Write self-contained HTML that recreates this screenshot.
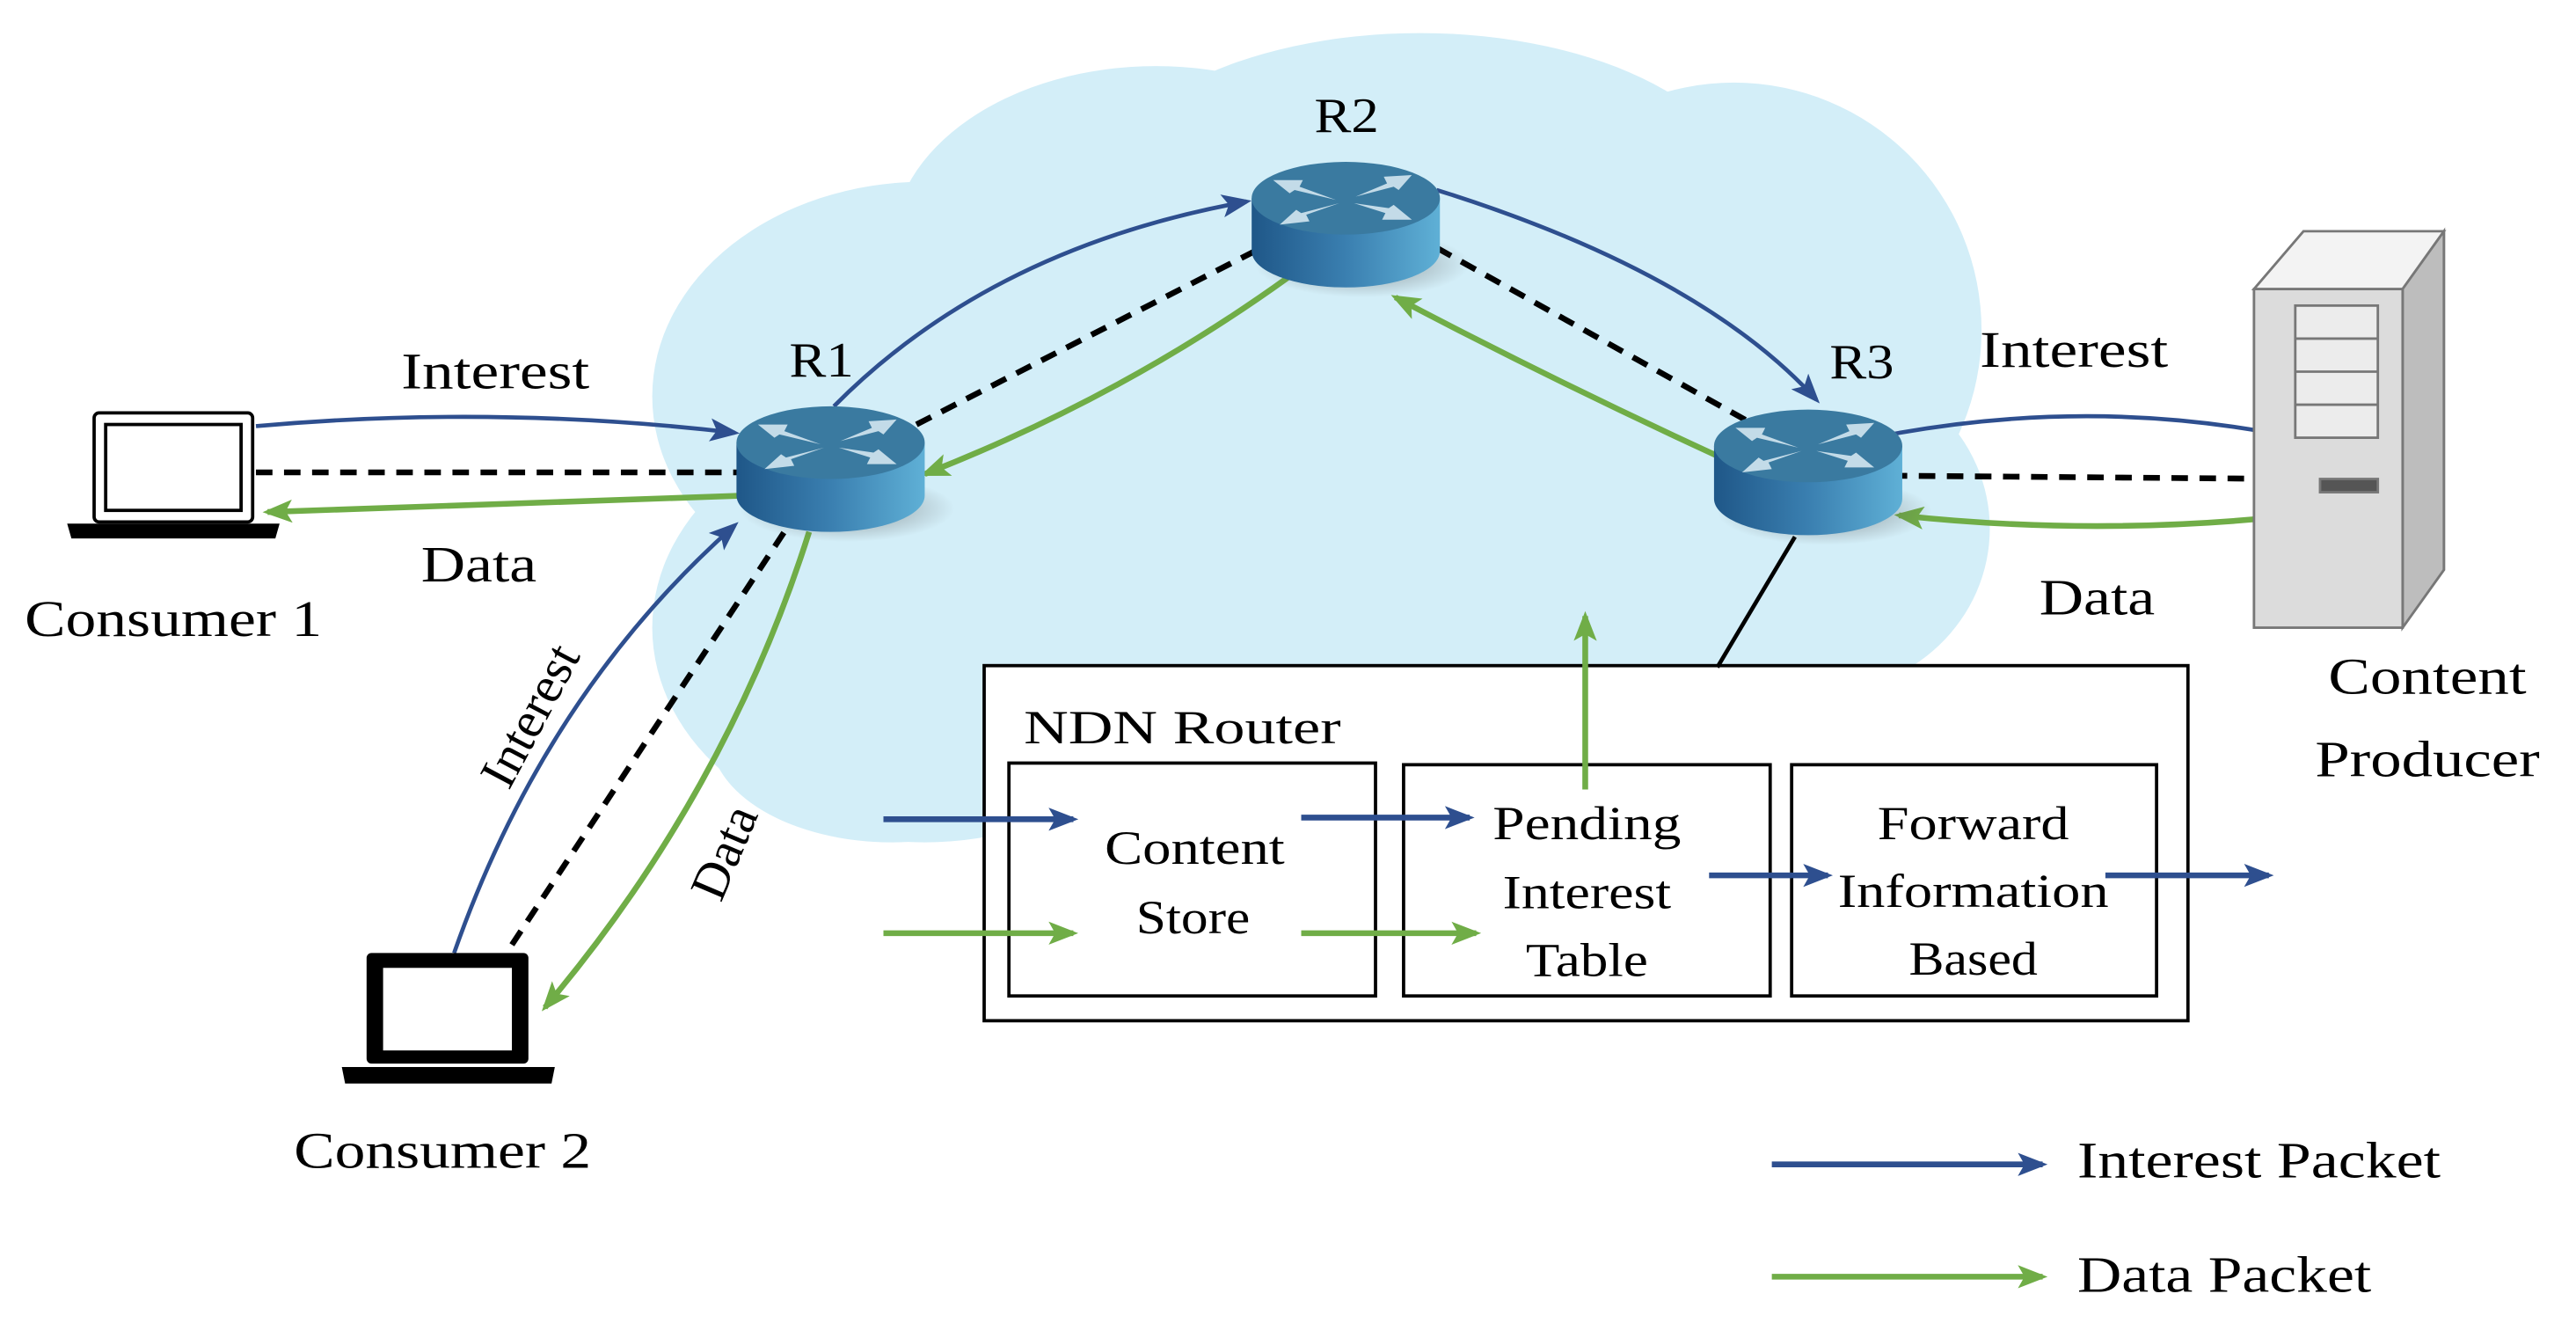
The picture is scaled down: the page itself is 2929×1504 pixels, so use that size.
<!DOCTYPE html>
<html><head><meta charset="utf-8"><style>
html,body{margin:0;padding:0;background:#fff;}
svg{display:block;}
text{font-family:"Liberation Serif",serif;fill:#000;}
</style></head><body>
<svg width="2929" height="1504" viewBox="0 0 1560 801" xmlns="http://www.w3.org/2000/svg">
<defs>
<linearGradient id="body" x1="0" x2="1" y1="0" y2="0"><stop offset="0" stop-color="#1f5788"/><stop offset="0.5" stop-color="#3a7fb0"/><stop offset="1" stop-color="#5fb0d6"/></linearGradient>
<radialGradient id="sh" cx="0.5" cy="0.5" r="0.5"><stop offset="0" stop-color="#555" stop-opacity="0.6"/><stop offset="1" stop-color="#555" stop-opacity="0"/></radialGradient>
<marker id="ab" viewBox="0 0 18 14" refX="15" refY="7" markerWidth="18" markerHeight="14" orient="auto" markerUnits="userSpaceOnUse"><path d="M0,0 L18,7 L0,14 L4,7 Z" fill="#2e4f8f"/></marker>
<marker id="ag" viewBox="0 0 18 14" refX="15" refY="7" markerWidth="18" markerHeight="14" orient="auto" markerUnits="userSpaceOnUse"><path d="M0,0 L18,7 L0,14 L4,7 Z" fill="#70ad47"/></marker>
<g id="router">
<ellipse cx="10" cy="40" rx="65" ry="20" fill="url(#sh)"/>
<path d="M-57,0 L-57,32 A57,22 0 0 0 57,32 L57,0 Z" fill="url(#body)"/>
<ellipse cx="0" cy="0" rx="57" ry="22" fill="#3a7aa0"/>
<g fill="#c3dbe8">
<path d="M-6,1 L-28,-7 L-26,-11 L-44,-11 L-34,-3 L-31,-5 Z"/>
<path d="M6,-1 L25,-9 L23,-13 L40,-14 L32,-5 L29,-7 Z"/>
<path d="M-4,3 L-24,10 L-22,14 L-40,16 L-30,7 L-27,9 Z"/>
<path d="M5,3 L24,9 L22,13 L40,13 L29,4 L26,6 Z"/>
</g>
</g>
</defs>
<!-- cloud -->
<g fill="#d3eef8">
<ellipse cx="560" cy="240" rx="165" ry="130"/>
<ellipse cx="700" cy="150" rx="160" ry="110"/>
<ellipse cx="860" cy="125" rx="200" ry="105"/>
<ellipse cx="1050" cy="200" rx="150" ry="150"/>
<ellipse cx="1100" cy="320" rx="105" ry="100"/>
<ellipse cx="560" cy="380" rx="165" ry="130"/>
<ellipse cx="800" cy="300" rx="320" ry="190"/>
<ellipse cx="540" cy="445" rx="110" ry="65"/>
</g>
<!-- NDN box -->
<rect x="596" y="403" width="729" height="215" fill="#fff" stroke="#000" stroke-width="2"/>
<rect x="611" y="462" width="222" height="141" fill="#fff" stroke="#000" stroke-width="2"/>
<rect x="850" y="463" width="222" height="140" fill="#fff" stroke="#000" stroke-width="2"/>
<rect x="1085" y="463" width="221" height="140" fill="#fff" stroke="#000" stroke-width="2"/>
<g font-size="29" lengthAdjust="spacingAndGlyphs">
<text x="620" y="450" textLength="192" lengthAdjust="spacingAndGlyphs">NDN Router</text>
<text x="669" y="523" textLength="109" lengthAdjust="spacingAndGlyphs">Content</text>
<text x="688" y="565" textLength="69" lengthAdjust="spacingAndGlyphs">Store</text>
<text x="904" y="508" textLength="114" lengthAdjust="spacingAndGlyphs">Pending</text>
<text x="910" y="550" textLength="102" lengthAdjust="spacingAndGlyphs">Interest</text>
<text x="924" y="591" textLength="74" lengthAdjust="spacingAndGlyphs">Table</text>
<text x="1137" y="508" textLength="116" lengthAdjust="spacingAndGlyphs">Forward</text>
<text x="1113" y="549" textLength="164" lengthAdjust="spacingAndGlyphs">Information</text>
<text x="1156" y="590" textLength="78" lengthAdjust="spacingAndGlyphs">Based</text>
</g>
<g stroke-width="3.5" fill="none">
<line x1="535" y1="496" x2="650" y2="496" stroke="#2e4f8f" marker-end="url(#ab)"/>
<line x1="788" y1="495" x2="890" y2="495" stroke="#2e4f8f" marker-end="url(#ab)"/>
<line x1="1035" y1="530" x2="1107" y2="530" stroke="#2e4f8f" marker-end="url(#ab)"/>
<line x1="1275" y1="530" x2="1374" y2="530" stroke="#2e4f8f" marker-end="url(#ab)"/>
<line x1="535" y1="565" x2="650" y2="565" stroke="#70ad47" marker-end="url(#ag)"/>
<line x1="788" y1="565" x2="894" y2="565" stroke="#70ad47" marker-end="url(#ag)"/>
<line x1="960" y1="478" x2="960" y2="373" stroke="#70ad47" marker-end="url(#ag)"/>
<line x1="1073" y1="705" x2="1237" y2="705" stroke="#2e4f8f" marker-end="url(#ab)"/>
<line x1="1073" y1="773" x2="1237" y2="773" stroke="#70ad47" marker-end="url(#ag)"/>
</g>
<line x1="1087" y1="325" x2="1040" y2="404" stroke="#000" stroke-width="2.5"/>
<!-- links -->
<g fill="none" stroke-width="2.5">
<path d="M155,258 Q300,245 445,262" stroke="#2e4f8f" marker-end="url(#ab)"/>
<line x1="155" y1="286" x2="448" y2="286" stroke="#000" stroke-width="3.5" stroke-dasharray="10,7"/>
<path d="M452,300 Q300,305 162,310" stroke="#70ad47" stroke-width="3.5" marker-end="url(#ag)"/>
<path d="M505,246 Q600,150 755,122" stroke="#2e4f8f" marker-end="url(#ab)"/>
<line x1="555" y1="257" x2="760" y2="152" stroke="#000" stroke-width="3.5" stroke-dasharray="10,7"/>
<path d="M780,168 Q680,240 560,287" stroke="#70ad47" stroke-width="3.5" marker-end="url(#ag)"/>
<path d="M870,115 Q1030,165 1100,242" stroke="#2e4f8f" marker-end="url(#ab)"/>
<line x1="870" y1="150" x2="1062" y2="257" stroke="#000" stroke-width="3.5" stroke-dasharray="10,7"/>
<path d="M1040,276 Q940,230 845,180" stroke="#70ad47" stroke-width="3.5" marker-end="url(#ag)"/>
<path d="M1145,263 Q1270,240 1390,265" stroke="#2e4f8f" marker-end="url(#ab)"/>
<line x1="1145" y1="288" x2="1390" y2="290" stroke="#000" stroke-width="3.5" stroke-dasharray="10,7"/>
<path d="M1390,312 Q1270,325 1150,312" stroke="#70ad47" stroke-width="3.5" marker-end="url(#ag)"/>
<path d="M275,577 Q330,420 445,318" stroke="#2e4f8f" marker-end="url(#ab)"/>
<line x1="310" y1="572" x2="475" y2="322" stroke="#000" stroke-width="3.5" stroke-dasharray="10,7"/>
<path d="M490,322 Q440,480 330,610" stroke="#70ad47" stroke-width="3.5" marker-end="url(#ag)"/>
</g>
<!-- routers -->
<use href="#router" x="503" y="268"/>
<use href="#router" x="815" y="120"/>
<use href="#router" x="1095" y="270"/>
<g font-size="30">
<text x="478" y="228" textLength="39" lengthAdjust="spacingAndGlyphs">R1</text>
<text x="796" y="80" textLength="39" lengthAdjust="spacingAndGlyphs">R2</text>
<text x="1108" y="229" textLength="39" lengthAdjust="spacingAndGlyphs">R3</text>
</g>
<!-- laptops -->
<g fill="none" stroke="#000" stroke-width="2">
<rect x="57" y="250" width="96" height="66" rx="3"/>
<rect x="64" y="257" width="82" height="52"/>
<path d="M42,318 L168,318 L166,325 L44,325 Z" fill="#000"/>
</g>
<g>
<rect x="222" y="577" width="98" height="67" rx="3" fill="#000"/>
<rect x="232" y="586" width="78" height="50" fill="#fff"/>
<path d="M207,646 L336,646 L334,656 L209,656 Z" fill="#000"/>
</g>
<!-- server -->
<g stroke="#777" stroke-width="1.5">
<path d="M1365,175 L1395,140 L1480,140 L1480,345 L1455,380 L1365,380 Z" fill="#e8e8e8"/>
<path d="M1395,140 L1480,140 L1455,175 L1365,175 Z" fill="#f3f3f3"/>
<path d="M1455,175 L1480,140 L1480,345 L1455,380 Z" fill="#bdbdbd"/>
<path d="M1365,175 L1455,175 L1455,380 L1365,380 Z" fill="#dcdcdc"/>
<rect x="1390" y="185" width="50" height="80" fill="#ececec"/>
<line x1="1390" y1="205" x2="1440" y2="205"/><line x1="1390" y1="225" x2="1440" y2="225"/><line x1="1390" y1="245" x2="1440" y2="245"/>
<rect x="1405" y="290" width="35" height="8" fill="#555"/>
</g>
<!-- labels -->
<g font-size="31">
<text x="243" y="235" textLength="114" lengthAdjust="spacingAndGlyphs">Interest</text>
<text x="255" y="352" textLength="70" lengthAdjust="spacingAndGlyphs">Data</text>
<text x="15" y="385" textLength="180" lengthAdjust="spacingAndGlyphs">Consumer 1</text>
<text x="178" y="707" textLength="180" lengthAdjust="spacingAndGlyphs">Consumer 2</text>
<text x="1199" y="222" textLength="114" lengthAdjust="spacingAndGlyphs">Interest</text>
<text x="1235" y="372" textLength="70" lengthAdjust="spacingAndGlyphs">Data</text>
<text x="1410" y="420" textLength="120" lengthAdjust="spacingAndGlyphs">Content</text>
<text x="1402" y="470" textLength="136" lengthAdjust="spacingAndGlyphs">Producer</text>
<text x="1258" y="713" textLength="220" lengthAdjust="spacingAndGlyphs">Interest Packet</text>
<text x="1258" y="782" textLength="178" lengthAdjust="spacingAndGlyphs">Data Packet</text>
<text transform="translate(330,438) rotate(-62)" text-anchor="middle">Interest</text>
<text transform="translate(448,520) rotate(-67)" text-anchor="middle">Data</text>
</g>
</svg>
</body></html>
